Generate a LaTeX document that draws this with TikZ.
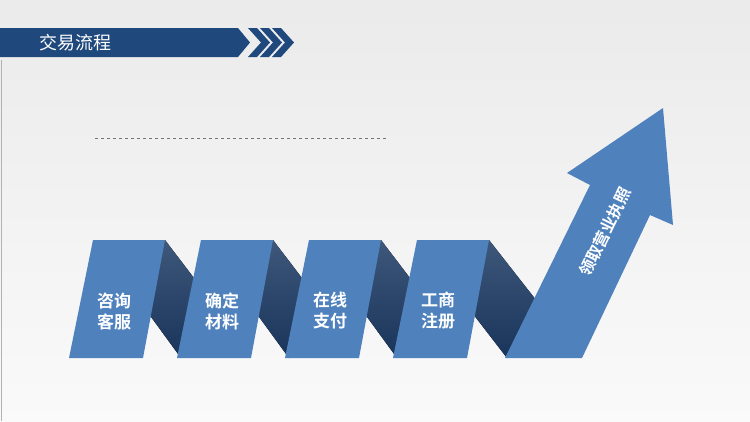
\documentclass[tikz,border=0pt]{standalone}
\usepackage{fontspec}
\newfontfamily\cjk{Noto Sans CJK SC}
\newfontfamily\cjkb{Noto Sans CJK SC Bold}
\definecolor{stepblue}{RGB}{79,129,189}
\definecolor{folddark}{RGB}{28,58,100}
\definecolor{bannerblue}{RGB}{31,73,125}
\tikzset{
  panel/.style={fill=stepblue},
  fold/.style={top color=folddark!85!white, bottom color=folddark!90!black},
  steptext/.style={text=white, font=\cjkb\fontsize{17}{21}\selectfont, align=center}
}
\begin{document}
\begin{tikzpicture}[x=1pt,y=-1pt]
\useasboundingbox (0,0) rectangle (750,421);
% background
\shade [top color=black!8, bottom color=black!2] (0,0) rectangle (750,421);
\draw [black!30] (1.5,60) -- (1.5,421);
% banner
\fill [bannerblue] (0,28) -- (238,28) -- (250,42.5) -- (238,57) -- (0,57) -- cycle;
\foreach \dx in {0,12,24}
  \fill [bannerblue] (248+\dx,28) -- (257+\dx,28) -- (270+\dx,42.5) -- (257+\dx,57) -- (248+\dx,57) -- (261+\dx,42.5) -- cycle;
\node [text=white, font=\cjk\fontsize{18}{20}\selectfont, anchor=west] (title) at (36,42.5) {交易流程};
% dashed line
\draw [black!55, dashed] (95,138) -- (388,138);
% folds between panels
\foreach \dx in {0,108,216}
  \fill [fold] (165+\dx,240) -- (197+\dx,282) -- (181+\dx,358) -- (146+\dx,310) -- cycle;
\fill [fold] (489,240) -- (536,300) -- (507,358) -- (470,310) -- cycle;
% panels
\foreach \dx/\lbl [count=\i] in {0/{咨询\\客服},108/{确定\\材料},216/{在线\\支付},324/{工商\\注册}} {
  \fill [panel] (93+\dx,240) -- (165+\dx,240) -- (143+\dx,358) -- (69+\dx,358) -- cycle;
  \node [steptext] (s\i) at (114+\dx,311) {\lbl};
}
% arrow
\fill [panel] (505,358) -- (590,185) -- (567,173) -- (663,108) -- (673,225) -- (650,215) -- (582,358) -- cycle;
\node [steptext, rotate=64, font=\cjkb\fontsize{16}{18}\selectfont] (goal) at (605,232) {领取营业执照};
\end{tikzpicture}
\end{document}
